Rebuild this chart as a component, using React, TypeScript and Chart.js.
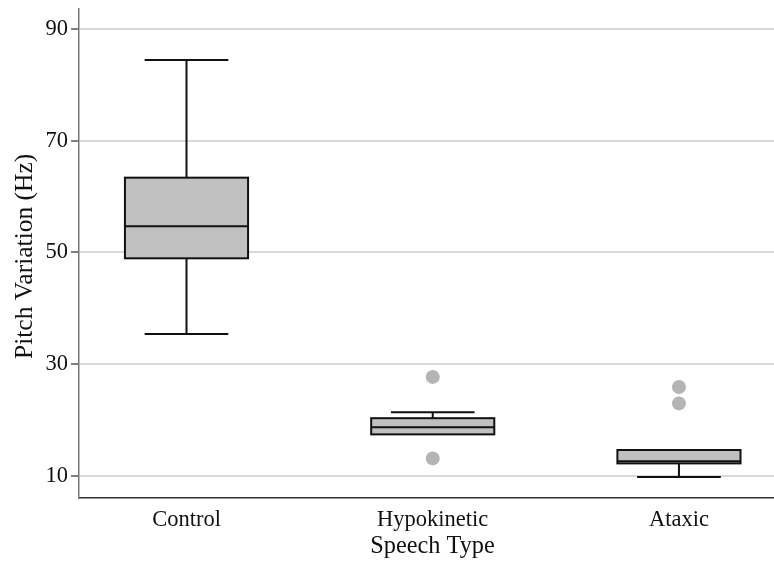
import React, { useEffect, useRef } from 'react';
import { Chart, registerables } from 'chart.js';

Chart.register(...registerables);

const categories = ['Control', 'Hypokinetic', 'Ataxic'];
const positions = [1, 2, 3];
const whiskerLow = [35.4, 17.4, 9.75];
const q1 = [48.95, 17.4, 12.2];
const median = [54.7, 18.7, 12.6];
const q3 = [63.4, 20.3, 14.6];
const whiskerHigh = [84.5, 21.35, 14.6];
const outlierX = [2, 2, 3, 3];
const outlierY = [27.7, 13.1, 25.9, 22.95];
const yTicks = [10, 30, 50, 70, 90];

const FONT = "'Liberation Serif', 'Times New Roman', serif";

const boxPlugin = {
  id: 'boxPlot',
  beforeDatasetsDraw(chart: any) {
    const { ctx, scales } = chart;
    const x = scales.x;
    const y = scales.y;
    ctx.save();
    ctx.strokeStyle = '#111';
    ctx.lineWidth = 2;
    for (let i = 0; i < positions.length; i++) {
      const p = positions[i];
      const cx = x.getPixelForValue(p);
      const l = x.getPixelForValue(p - 0.25);
      const r = x.getPixelForValue(p + 0.25);
      const cl = x.getPixelForValue(p - 0.17);
      const cr = x.getPixelForValue(p + 0.17);
      const yq1 = y.getPixelForValue(q1[i]);
      const yq3 = y.getPixelForValue(q3[i]);
      const ymed = y.getPixelForValue(median[i]);
      const yhi = y.getPixelForValue(whiskerHigh[i]);
      const ylo = y.getPixelForValue(whiskerLow[i]);
      ctx.beginPath();
      if (whiskerHigh[i] > q3[i]) {
        ctx.moveTo(cx, yq3);
        ctx.lineTo(cx, yhi);
        ctx.moveTo(cl, yhi);
        ctx.lineTo(cr, yhi);
      }
      if (whiskerLow[i] < q1[i]) {
        ctx.moveTo(cx, yq1);
        ctx.lineTo(cx, ylo);
        ctx.moveTo(cl, ylo);
        ctx.lineTo(cr, ylo);
      }
      ctx.stroke();
      ctx.fillStyle = '#c0c0c0';
      ctx.fillRect(l, yq3, r - l, yq1 - yq3);
      ctx.strokeRect(l, yq3, r - l, yq1 - yq3);
      ctx.beginPath();
      ctx.moveTo(l, ymed);
      ctx.lineTo(r, ymed);
      ctx.stroke();
    }
    ctx.restore();
  },
};

const zeroPad = (s: any) => {
  s.paddingTop = 0;
  s.paddingBottom = 0;
  s.paddingLeft = 0;
  s.paddingRight = 0;
};

export default function App() {
  const ref = useRef<HTMLCanvasElement>(null);
  useEffect(() => {
    if (!ref.current) return;
    const chart = new Chart(ref.current, {
      type: 'scatter',
      data: {
        datasets: [
          {
            label: 'Outliers',
            data: outlierX.map((v, i) => ({ x: v, y: outlierY[i] })),
            pointRadius: 7,
            pointHoverRadius: 7,
            backgroundColor: '#b5b5b5',
            borderWidth: 0,
          },
        ],
      },
      options: {
        responsive: false,
        animation: false,
        layout: { autoPadding: false, padding: { top: 8.3, right: 0, left: 0, bottom: 0 } },
        plugins: { legend: { display: false }, tooltip: { enabled: false } },
        scales: {
          x: {
            type: 'linear',
            position: 'bottom',
            min: 0.5634,
            max: 3.386,
            afterBuildTicks: (s: any) => {
              s.ticks = positions.map((v) => ({ value: v }));
            },
            afterFit: (s: any) => {
              s.height = 70;
              zeroPad(s);
            },
            ticks: {
              autoSkip: false,
              maxRotation: 0,
              padding: 9,
              color: '#111',
              font: { family: FONT, size: 22.5 },
              callback: (v: any) => categories[positions.indexOf(Number(v))] ?? '',
            },
            grid: { display: false, drawTicks: false },
            border: { display: true, color: '#333', width: 1.5 },
            title: {
              display: true,
              text: '  Speech Type',
              color: '#111',
              font: { family: FONT, size: 24.3 },
              padding: { top: 0, bottom: 7 },
            },
          },
          y: {
            type: 'linear',
            min: 6,
            max: 93.75,
            afterBuildTicks: (s: any) => {
              s.ticks = yTicks.map((v) => ({ value: v }));
            },
            afterFit: (s: any) => {
              s.width = 79;
              zeroPad(s);
            },
            ticks: {
              padding: 3,
              color: '#111',
              font: { family: FONT, size: 22.5 },
            },
            grid: {
              color: '#d9d9d9',
              lineWidth: 2,
              tickColor: '#555',
              tickLength: 8,
              tickWidth: 1.5,
            },
            border: { display: true, color: '#777', width: 1.5 },
            title: {
              display: true,
              text: 'Pitch Variation (Hz) ',
              color: '#111',
              font: { family: FONT, size: 25.5 },
              padding: { top: 9.7, bottom: 0 },
            },
          },
        },
      },
      plugins: [boxPlugin],
    });
    return () => chart.destroy();
  }, []);
  return (
    <div style={{ position: 'absolute', left: 0, top: 0, width: 774, height: 568 }}>
      <canvas ref={ref} width={774} height={568} />
    </div>
  );
}
